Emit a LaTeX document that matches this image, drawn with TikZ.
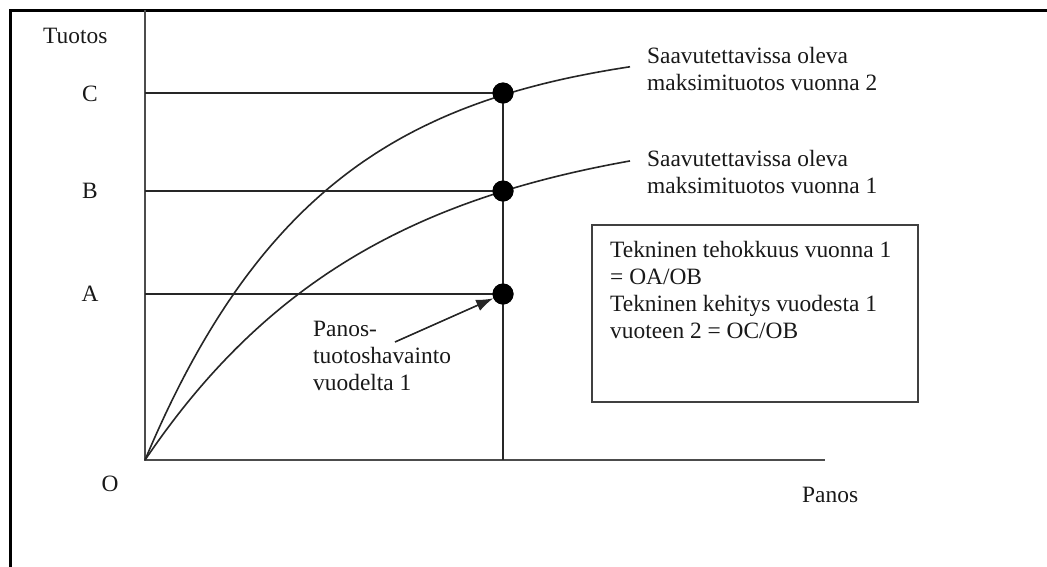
\documentclass[tikz,border=0pt]{standalone}
\usepackage{fontspec}
\setmainfont{Liberation Serif}
\usetikzlibrary{arrows.meta}
\begin{document}
\begin{tikzpicture}[x=1pt,y=-1pt,
  lbl/.style={inner sep=0pt, font=\fontsize{23.4}{27}\selectfont, text=black!90},
  dot/.style={circle, fill=black, inner sep=0pt, minimum size=21pt},
  guide/.style={line width=1.6pt, black!85},
  axis/.style={line width=2.2pt, black!70},
  curve/.style={line width=1.6pt, black!85},
  infobox/.style={draw=black!75, line width=2pt, inner sep=0pt, minimum width=326pt, minimum height=177pt},
]
\clip (0,0) rectangle (1047,566);
\useasboundingbox (0,0) rectangle (1047,566);
\fill[white] (0,0) rectangle (1047,566);
\draw[line width=3pt] (10,10) rectangle (1080,600);

% axes
\coordinate (O) at (145,460);
\coordinate (ytop) at (145,10);
\coordinate (xend) at (825,460);
\coordinate (xP) at (503,460);
\draw[axis] (ytop) -- (O) -- (xend);

% dots
\node[dot] (dotC) at (503,93) {};
\node[dot] (dotB) at (503,191) {};
\node[dot] (dotA) at (503,294) {};

% guide lines
\coordinate (yC) at (145,93);
\coordinate (yB) at (145,191);
\coordinate (yA) at (145,294);
\draw[guide] (yC) -- (dotC.center);
\draw[guide] (yB) -- (dotB.center);
\draw[guide] (yA) -- (dotA.center);
\draw[guide] (dotC.center) -- (xP);

% curves
\draw[curve] plot[domain=0:485, samples=90, smooth] ({145+\x}, {460-420*(1-exp(-0.00568*\x))});
\draw[curve] plot[domain=0:485, samples=90, smooth] ({145+\x}, {460-340*(1-exp(-0.00437*\x))});

% redraw dots on top
\node[dot] at (dotC) {};
\node[dot] at (dotB) {};
\node[dot] at (dotA) {};

% axis labels
\node[lbl, anchor=west] (tuotos) at (43,36) {Tuotos};
\node[lbl] (lC) at (90,94) {C};
\node[lbl] (lB) at (90,191) {B};
\node[lbl] (lA) at (90,294) {A};
\node[lbl] (lO) at (110,484) {O};
\node[lbl, anchor=west] (panos) at (802,495) {Panos};

% curve labels
\node[lbl, anchor=west, align=left] (c2) at (647,69) {Saavutettavissa oleva\\maksimituotos vuonna 2};
\node[lbl, anchor=west, align=left] (c1) at (647,172) {Saavutettavissa oleva\\maksimituotos vuonna 1};

% observation label and arrow
\node[lbl, anchor=west, align=left] (obs) at (313,356) {Panos-\\tuotoshavainto\\vuodelta 1};
\coordinate (arrTail) at (395,342);
\draw[line width=1.6pt, black!85, -{Latex[length=17pt,width=12pt]}] (arrTail) -- (dotA);

% info box
\node[infobox] (box) at (755,313.5) {};
\node[lbl, anchor=west, align=left] (boxtext) at (610,290) {Tekninen tehokkuus vuonna 1\\= OA/OB\\Tekninen kehitys vuodesta 1\\vuoteen 2 = OC/OB};
\end{tikzpicture}
\end{document}
